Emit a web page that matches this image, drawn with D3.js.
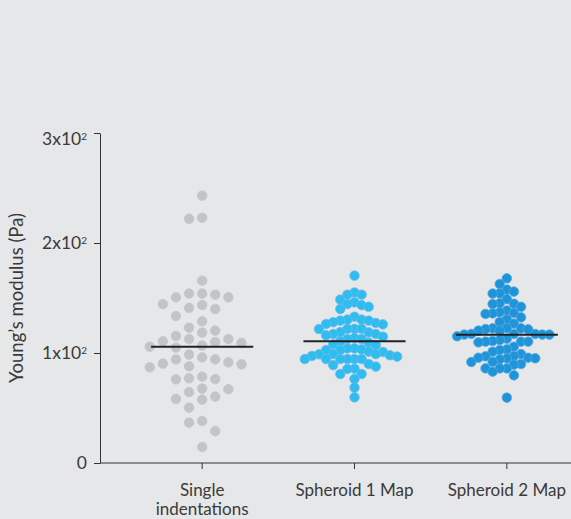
<!DOCTYPE html>
<html>
<head>
<meta charset="utf-8">
<script src="https://cdn.jsdelivr.net/npm/d3@7"></script>
<style>
  body { margin: 0; background: #e6e7e8; }
  svg text { font-family: Lato, "Open Sans", sans-serif; }
  .axis path, .axis line { stroke: #333; }
</style>
</head>
<body>
<div id="chart"></div>
<script>
const width = 571;
const height = 519;

// categories and point values (Pa)
const categories = ["Single indentations", "Spheroid 1 Map", "Spheroid 2 Map"];
const categoryLines = [["Single", "indentations"], ["Spheroid 1 Map"], ["Spheroid 2 Map"]];

const singleIndentations = [
  243, 223, 222, 165.7, 154, 154, 153, 150.6, 150.6, 144.5, 143.6, 141, 140, 133.6,
  128.8, 123, 120.3, 118.5, 115.5, 112.7, 112.7, 110.6, 110, 109, 106.7, 105.7, 104.8,
  98.5, 96, 94.2, 94.2, 91.5, 90.3, 89.7, 87.9, 87, 78.5, 77, 76.3, 76, 67.6, 67,
  64.5, 60.3, 58.2, 57.6, 50.3, 38.2, 36.7, 29, 14.5
];
const spheroid1Map = [
  170.3, 155, 153, 153, 148.5, 146, 144.5, 143.5, 142, 140, 133, 130.3, 130.3, 129.4,
  129.4, 128, 127.3, 126.4, 126, 122, 122, 122, 121.8, 119, 118.8, 117.3, 117.3, 116,
  114.8, 113.6, 112.7, 112.7, 110.6, 109.4, 107.9, 107.3, 104.2, 104.2, 103.3, 102.7,
  102.7, 101.2, 100.9, 99, 99, 98.8, 97.9, 97.3, 96.7, 94.5, 94.5, 94.5, 94.5, 94.5,
  94.5, 90, 89, 87.6, 85.7, 85.5, 80.9, 80.9, 76.4, 68.5, 59.7
];
const spheroid2Map = [
  167.9, 162.7, 157.6, 155.8, 154.2, 154, 149, 145.2, 144.8, 144.5, 142, 138.5, 137,
  136.4, 136, 135.5, 132.4, 130.6, 128.2, 126.7, 122.7, 122.4, 122.4, 121.8, 121.5,
  120.3, 120.3, 117.3, 117.3, 117.3, 116.7, 116.7, 116.7, 115.2, 113, 111.8, 110.9,
  110.3, 110.3, 110.3, 109.7, 105.7, 103.3, 102.7, 101.2, 99, 97.3, 97, 95.7, 95.7,
  95.2, 95.2, 94.2, 92, 91.8, 90, 89.4, 86, 86, 86, 83, 79.7, 59.4
];
const seriesValues = [singleIndentations, spheroid1Map, spheroid2Map];
const seriesColors = ["#c3c4c6", "#2dbdee", "#1f95d9"];
const seriesStrokes = ["#c3c4c6", "#78b4ea", "#5aa6e2"];
// horizontal step between neighbours in a crowded row, and vertical clearance
const seriesSteps = [13.1, 7.1, 7.1];
const seriesGaps = [11, 8.6, 8.6];

const yTicks = [0, 100, 200, 300];
const yTickLabels = ["0", "1x10", "2x10", "3x10"];

const margin = { top: 133, right: 0, bottom: 56, left: 100 };
const font = "Lato, 'Open Sans', sans-serif";
const textColor = "#3a3a3a";

const svg = d3.select("#chart").append("svg")
  .attr("width", width)
  .attr("height", height);

svg.append("rect").attr("width", width).attr("height", height).attr("fill", "#e6e7e8");

const y = d3.scaleLinear().domain([0, 300]).range([height - margin.bottom, margin.top]);
const x = d3.scaleBand().domain(categories).range([126, 583]);

// y axis
const yAxis = svg.append("g")
  .attr("class", "axis")
  .attr("transform", `translate(${margin.left},0)`)
  .call(d3.axisLeft(y).tickValues(yTicks).tickSize(6).tickSizeOuter(0).tickPadding(7)
    .tickFormat((d, i) => yTickLabels[i]));

yAxis.attr("font-family", font).attr("font-size", 17.5);
yAxis.selectAll(".tick text").attr("fill", textColor).each(function(d, i) {
  const t = d3.select(this);
  t.text(yTickLabels[i]);
  if (d !== 0) {
    t.append("tspan").attr("dy", "-0.55em").attr("font-size", "10px").text("2");
  }
});
// top label sits just below its tick
yAxis.selectAll(".tick text").filter(d => d === 300).attr("y", 6);

// x axis
const xAxis = svg.append("g")
  .attr("class", "axis")
  .attr("transform", `translate(0,${y(0)})`)
  .call(d3.axisBottom(x).tickSize(6).tickSizeOuter(0).tickFormat(""));
xAxis.select(".domain").remove();
xAxis.append("line")
  .attr("x1", margin.left).attr("x2", width)
  .attr("stroke", "#333");

xAxis.selectAll(".tick").append("text")
  .attr("fill", textColor)
  .attr("text-anchor", "middle")
  .attr("font-family", font)
  .attr("font-size", 17)
  .each(function(d, i) {
    const t = d3.select(this);
    categoryLines[i].forEach((line, j) => {
      t.append("tspan").attr("x", 0).attr("y", 33 + j * 19).text(line);
    });
  });

// y label
svg.append("text")
  .attr("transform", `translate(23,${(y(0) + y(300)) / 2}) rotate(-90)`)
  .attr("text-anchor", "middle")
  .attr("fill", textColor)
  .attr("font-family", font)
  .attr("font-size", 18.5)
  .text("Young\u2019s modulus (Pa)");

// simple column swarm: each point takes the nearest free slot to the centre
function swarm(values, step, vGap) {
  const half = step / 2;
  const placed = [];
  const sorted = values.slice().sort((a, b) => b - a);
  sorted.forEach(v => {
    const py = y(v);
    for (let k = 0; k < 40; k++) {
      const m = Math.ceil(k / 2) * (k % 2 ? -1 : 1);
      const dx = m * half;
      const hit = placed.some(p => Math.abs(p.dx - dx) < step - 0.01 && Math.abs(p.py - py) < vGap);
      if (!hit) { placed.push({ v, py, dx }); break; }
    }
  });
  return placed;
}

seriesValues.forEach((vals, i) => {
  const cx = x(categories[i]) + x.bandwidth() / 2;
  const pts = swarm(vals, seriesSteps[i], seriesGaps[i]);
  svg.append("g")
    .selectAll("circle")
    .data(pts)
    .join("circle")
    .attr("cx", d => cx + d.dx)
    .attr("cy", d => d.py)
    .attr("r", 4.8)
    .attr("fill", seriesColors[i])
    .attr("stroke", seriesStrokes[i])
    .attr("stroke-width", 0.7);

  const med = d3.median(vals);
  svg.append("line")
    .attr("x1", cx - x.bandwidth() * 0.335)
    .attr("x2", cx + x.bandwidth() * 0.335)
    .attr("y1", y(med)).attr("y2", y(med))
    .attr("stroke", "#222")
    .attr("stroke-width", 2);
});
</script>
</body>
</html>
